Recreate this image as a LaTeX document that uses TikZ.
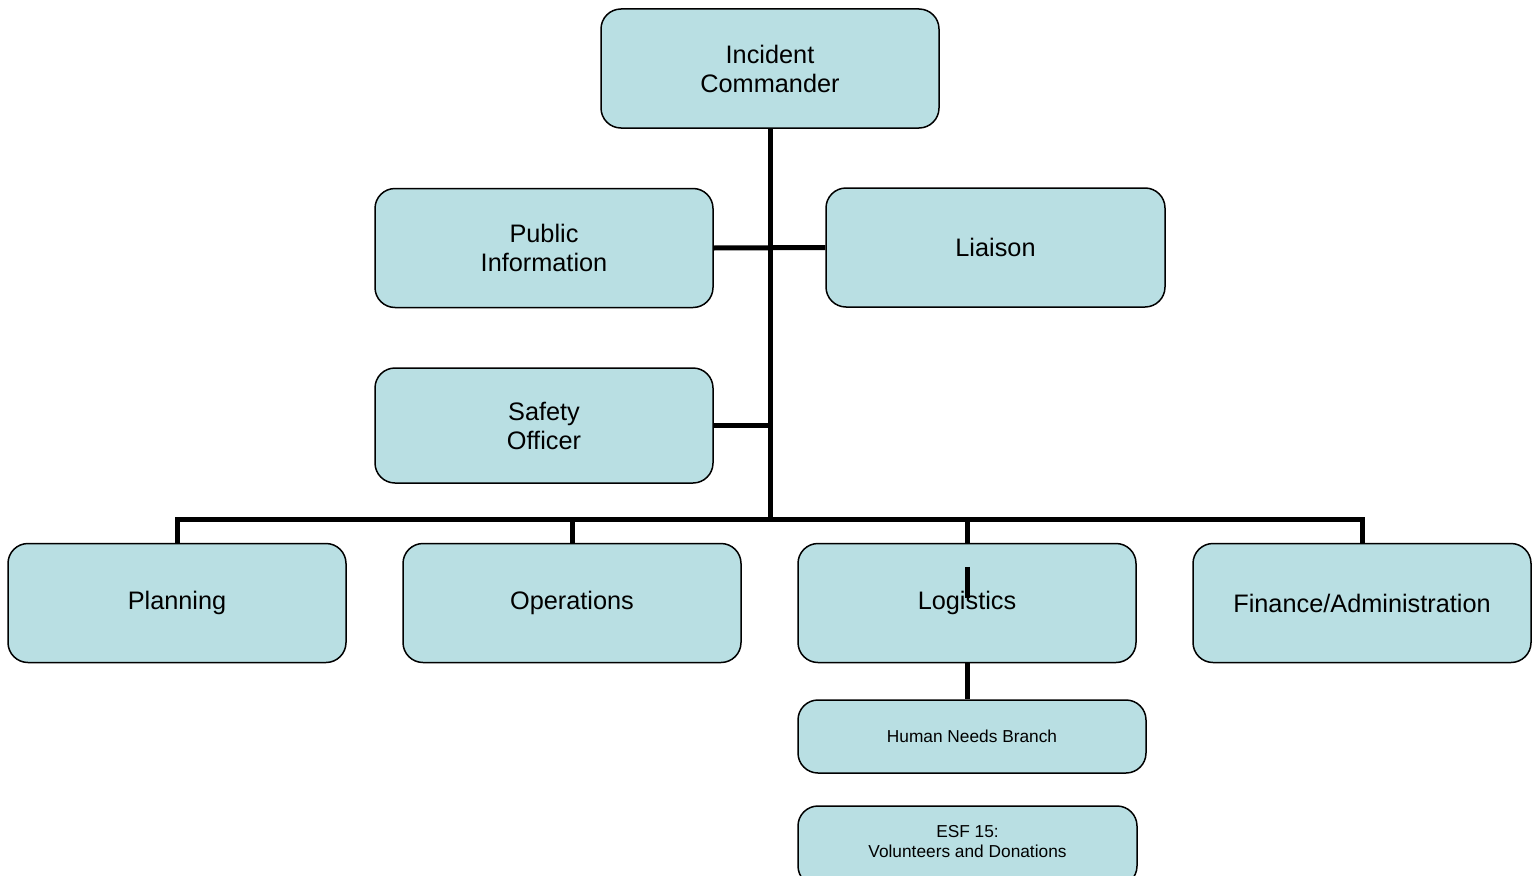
\documentclass[tikz,border=0pt]{standalone}
\usepackage{fontspec}
\setmainfont{Liberation Sans}
\usetikzlibrary{positioning}

\definecolor{boxFill}{HTML}{B9DFE3}

\tikzset{
  unitBox/.style={draw, line width=1.5pt, fill=boxFill, rounded corners=20pt,
    minimum width=338pt, minimum height=119pt, inner sep=0pt, align=center,
    font=\fontsize{25.3}{29}\selectfont},
  smallBox/.style={unitBox, minimum height=73pt, font=\fontsize{17.3}{20}\selectfont},
  orgLine/.style={line width=5pt}
}

\begin{document}
\begin{tikzpicture}[x=1pt, y=-1pt]
    \clip (0,0) rectangle (1538,875);
    \fill[white] (0,0) rectangle (1538,875);

    \node[unitBox] (incidentCommander) at (770,68.5) {Incident\\Commander};
    \node[unitBox] (publicInformation) at (544,248) {Public\\Information};
    \node[unitBox, minimum width=339pt] (liaison) at (995.5,247.5) {Liaison};
    \node[unitBox, minimum height=115pt] (safetyOfficer) at (544,425.5) {Safety\\Officer};

    \node[unitBox] (planning) at (177,603) {Planning};
    \node[unitBox] (operations) at (572,603) {Operations};
    \node[unitBox] (logistics) at (967,603) {Logistics};
    \node[unitBox] (finance) at (1362,603) {Finance/Administration};

    \node[smallBox, minimum width=348pt] (humanNeeds) at (972,736.5) {Human Needs Branch};
    \node[smallBox, minimum height=80pt, minimum width=339pt] (volunteers) at (967.5,846) {};
    \node[font=\fontsize{17.3}{20}\selectfont, align=center] (volunteersText) at (967.5,842) {ESF 15:\\Volunteers and Donations};

    \coordinate (bus) at (770,519);
    \draw[orgLine] (incidentCommander.south) -- (bus);
    \draw[orgLine] (publicInformation.east) -- (liaison.west);
    \draw[orgLine] (safetyOfficer.east) -- (safetyOfficer.east -| bus);
    \foreach \unit in {planning,operations,logistics,finance}
      \draw[orgLine] (\unit.north) |- (bus);
    \draw[orgLine] ([yshift=-24pt]logistics.north) -- ([yshift=-55pt]logistics.north);
    \draw[orgLine] (logistics.south) -- (logistics.south |- humanNeeds.north);
  \end{tikzpicture}
\end{document}
